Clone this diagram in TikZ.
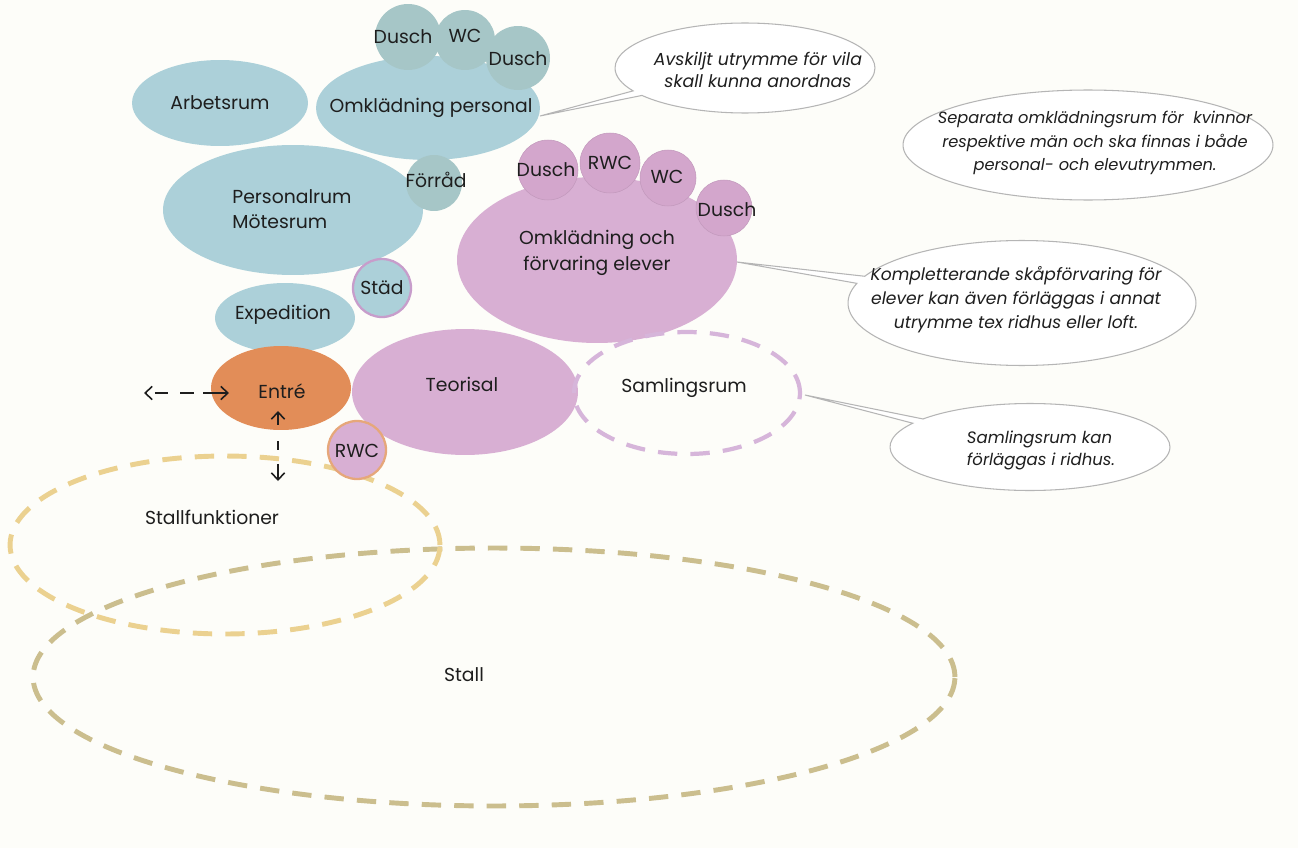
\documentclass[tikz,border=0pt]{standalone}
\usepackage{fontspec}
\setmainfont{Poppins}
\usetikzlibrary{shapes.geometric,shapes.callouts,arrows.meta}
\definecolor{bg}{HTML}{FDFDF9}
\definecolor{blu}{HTML}{ACD0D9}
\definecolor{blusm}{HTML}{A6C6C7}
\definecolor{pnk}{HTML}{D8AFD3}
\definecolor{pnksm}{HTML}{D3A6CC}
\definecolor{org}{HTML}{E28D58}
\definecolor{orgl}{HTML}{E6A77A}
\definecolor{lil}{HTML}{D6B5DA}
\definecolor{lilb}{HTML}{C79DCB}
\definecolor{yel}{HTML}{EBD190}
\definecolor{olv}{HTML}{CBBE8E}
\definecolor{txt}{HTML}{1E1E1E}
\definecolor{bub}{HTML}{B5B5B5}
\tikzset{
  room/.style={ellipse, inner sep=0pt},
  bluroom/.style={room, fill=blu},
  blucirc/.style={circle, inner sep=0pt, fill=blusm},
  pnkroom/.style={room, fill=pnk},
  pnkcirc/.style={circle, inner sep=0pt, fill=pnksm, draw=pnksm!92!black, line width=0.3pt},
  lbl/.style={text=txt, font=\fontsize{10.7}{14.6}\selectfont, align=center, inner sep=0pt},
  dashring/.style={ellipse, inner sep=0pt, line width=2.8pt, dash pattern=on 11pt off 7.5pt},
  bubble/.style={ellipse callout, draw=bub, line width=0.6pt, fill=white, callout pointer arc=7, inner sep=0pt},
  plainbubble/.style={ellipse, draw=bub, line width=0.6pt, fill=white, inner sep=0pt},
  btxt/.style={text=txt, align=center, inner sep=0pt},
  flow/.style={line width=0.9pt, txt, {Straight Barb[length=4pt,width=7.5pt]}-{Straight Barb[length=4pt,width=7.5pt]}}
}
\begin{document}
\begin{tikzpicture}[x=0.02cm, y=-0.02cm]
\fill[bg] (0,0) rectangle (1298,848);
\useasboundingbox (0,0) rectangle (1298,848);
% dashed outer zones
\node[dashring, draw=olv, minimum width=18.44cm, minimum height=5.16cm] (stall) at (494,677) {};
\node[dashring, draw=yel, minimum width=8.6cm, minimum height=3.56cm] (stallf) at (225,545) {};
\node[lbl] (stalltxt) at (464,675) {Stall};
\node[lbl] (stallftxt) at (212,517) {Stallfunktioner};
% blue staff cluster
\node[bluroom, minimum width=5.2cm, minimum height=2.6cm] (per) at (293,210) {};
\node[bluroom, minimum width=3.52cm, minimum height=1.72cm] (arb) at (220,103) {};
\node[bluroom, minimum width=4.48cm, minimum height=2.08cm] (omkp) at (428,108) {};
\node[blucirc, minimum size=1.32cm] (d1) at (408,37) {};
\node[blucirc, minimum size=1.2cm] (wc1) at (465,40) {};
\node[blucirc, minimum size=1.28cm] (d2) at (518,58) {};
\node[blucirc, minimum size=1.12cm] (forr) at (434,183) {};
\node[bluroom, minimum width=2.8cm, minimum height=1.4cm] (exp) at (285,318) {};
\node[circle, inner sep=0pt, fill=blu, draw=lilb, line width=1.3pt, minimum size=1.16cm] (stad) at (382,288) {};
\node[lbl] at (arb) {Arbetsrum};
\node[lbl] at (431,108) {Omklädning personal};
\node[lbl] at (403,37) {Dusch};
\node[lbl] at (465,36) {WC};
\node[lbl] at (518,59) {Dusch};
\node[lbl] at (436,180) {Förråd};
\node[lbl, align=left] at (292,209) {Personalrum\\Mötesrum};
\node[lbl] at (283,315) {Expedition};
\node[lbl] at (382,288) {Städ};
% pupils
\node[pnkroom, minimum width=5.6cm, minimum height=3.32cm] (omke) at (597,260) {};
\node[pnkcirc, minimum size=1.2cm] (pd1) at (548,170) {};
\node[pnkcirc, minimum size=1.2cm] (prwc) at (610,163) {};
\node[pnkcirc, minimum size=1.12cm] (pwc) at (668,178) {};
\node[pnkcirc, minimum size=1.12cm] (pd2) at (724,208) {};
\node[lbl] at (546,170) {Dusch};
\node[lbl] at (610,163) {RWC};
\node[lbl] at (667,177) {WC};
\node[lbl] at (727,210) {Dusch};
\node[lbl] at (597,253) {Omklädning och\\förvaring elever};
% teori and entre
\node[pnkroom, minimum width=4.52cm, minimum height=2.52cm] (teori) at (465,392) {};
\node[room, fill=org, minimum width=2.8cm, minimum height=1.68cm] (entre) at (281,388) {};
\node[circle, inner sep=0pt, fill=pnk, draw=orgl, line width=1.3pt, minimum size=1.16cm] (rwc) at (357,450) {};
\node[lbl] at (462,384) {Teorisal};
\node[lbl] at (282,391) {Entré};
\node[lbl] at (357,451) {RWC};
\node[dashring, draw=lil, line width=2.4pt, minimum width=4.52cm, minimum height=2.44cm] (saml) at (687,393) {};
\node[lbl] at (684,388) {Samlingsrum};
% flows
\coordinate (hL) at (144,393);
\coordinate (hR) at (229,393);
\coordinate (vT) at (278,411);
\coordinate (vB) at (278,481);
\draw[flow, dash pattern=on 0.1pt off 5pt on 7.5pt off 7pt on 7.5pt off 5.5pt on 20pt] (hL) -- (hR);
\draw[flow, dash pattern=on 7pt off 9pt on 5pt off 8pt on 20pt] (vT) -- (vB);
% callouts
\coordinate (tipA) at (540,116);
\coordinate (tipB) at (737,262);
\coordinate (tipC) at (805,395);
\node[bubble, minimum width=5.2cm, minimum height=1.8cm, callout absolute pointer={(tipA)}] (bA) at (745,68) {};
\node[btxt, font=\fontsize{9.9}{13}\selectfont\itshape] at (758,70) {Avskiljt utrymme för vila\\skall kunna anordnas};
\node[plainbubble, minimum width=7.4cm, minimum height=2.2cm] (bS) at (1088,145) {};
\node[btxt, font=\fontsize{9.25}{13.5}\selectfont\itshape] at (1095,143) {Separata omklädningsrum för \ kvinnor\\respektive män och ska finnas i både\\personal- och elevutrymmen.};
\node[bubble, minimum width=6.96cm, minimum height=2.5cm, callout absolute pointer={(tipB)}] (bB) at (1022,303) {};
\node[btxt, font=\fontsize{9.75}{13.6}\selectfont\itshape] at (1016,300) {Kompletterande skåpförvaring för\\elever kan även förläggas i annat\\utrymme tex ridhus eller loft.};
\node[bubble, minimum width=5.6cm, minimum height=1.74cm, callout absolute pointer={(tipC)}] (bC) at (1030,447) {};
\node[btxt, align=left, font=\fontsize{9.4}{12.5}\selectfont\itshape] at (1041,450) {Samlingsrum kan\\förläggas i ridhus.};
\end{tikzpicture}
\end{document}
